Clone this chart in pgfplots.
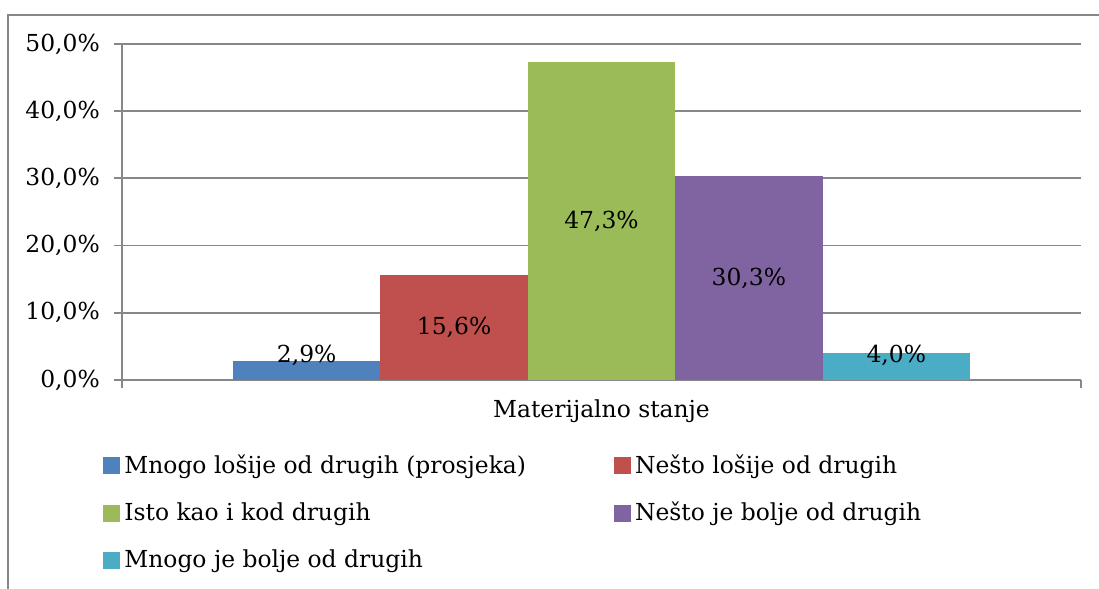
\documentclass[border=0pt]{standalone}
\usepackage{fontspec}
\setmainfont{DejaVu Serif}
\usepackage{pgfplots}
\pgfplotsset{compat=1.18}

\definecolor{s1}{HTML}{4F81BD}
\definecolor{s2}{HTML}{C0504D}
\definecolor{s3}{HTML}{9BBB59}
\definecolor{s4}{HTML}{8064A2}
\definecolor{s5}{HTML}{4BACC6}
\definecolor{gridgray}{HTML}{878787}

\pgfplotsset{
  sq/.style={draw=none,
    legend image code/.code={\fill[##1] (0pt,-4.25pt) rectangle (8.5pt,4.25pt);}},
}

\begin{document}
\fontsize{11.7}{14}\selectfont
\begin{tikzpicture}
\useasboundingbox (-61pt,-104.5pt) rectangle (488.5pt,190pt);
% chart area frame (cropped on the right and bottom)
\draw[gridgray, line width=0.8pt] (-57pt,-110pt) -- (-57pt,182.5pt) -- (495pt,182.5pt);
\begin{axis}[
  at={(0pt,0pt)}, anchor=south west,
  scale only axis, width=479.5pt, height=168pt,
  ybar=0pt, bar width=0.1537,
  xmin=0, xmax=1, ymin=0, ymax=50,
  xtick={0,1}, xticklabels={,},
  extra x ticks={0.5}, extra x tick labels={Materijalno stanje},
  extra x tick style={major tick length=0pt, xticklabel style={yshift=-6pt}},
  ytick={0,10,20,30,40,50},
  yticklabel={\pgfmathprintnumber[fixed,fixed zerofill,precision=1,use comma,assume math mode=true]{\tick}\%},
  ymajorgrids,
  major grid style={gridgray, line width=0.9pt},
  axis line style={gridgray, line width=0.9pt},
  every tick/.style={gridgray, line width=0.9pt},
  tick align=outside, major tick length=4pt,
  axis x line*=bottom, axis y line*=left,
  yticklabel style={xshift=-3pt},
  visualization depends on={y \as \rawy},
  nodes near coords={\pgfmathprintnumber[fixed,fixed zerofill,precision=1,use comma,assume math mode=true]{\pgfplotspointmeta}\%},
  nodes near coords style={anchor=center, text=black,
    shift={(axis direction cs:0,{max(\rawy/2,3.7)-\rawy})}},
  legend columns=2,
  legend cell align=left,
  legend style={draw=none, fill=none, inner sep=0pt,
    at={(-0.0198,-0.208)}, anchor=north west,
    row sep=8.7pt,
    /tikz/every even column/.append style={column sep=42pt}},
]
\addplot[fill=s1, sq] coordinates {(0.5,2.9)};
\addplot[fill=s2, sq] coordinates {(0.5,15.6)};
\addplot[fill=s3, sq] coordinates {(0.5,47.3)};
\addplot[fill=s4, sq] coordinates {(0.5,30.3)};
\addplot[fill=s5, sq] coordinates {(0.5,4.0)};
\legend{Mnogo lošije od drugih (prosjeka), Nešto lošije od drugih,
  Isto kao i kod drugih, Nešto je bolje od drugih, Mnogo je bolje od drugih}
\end{axis}
\end{tikzpicture}
\end{document}
